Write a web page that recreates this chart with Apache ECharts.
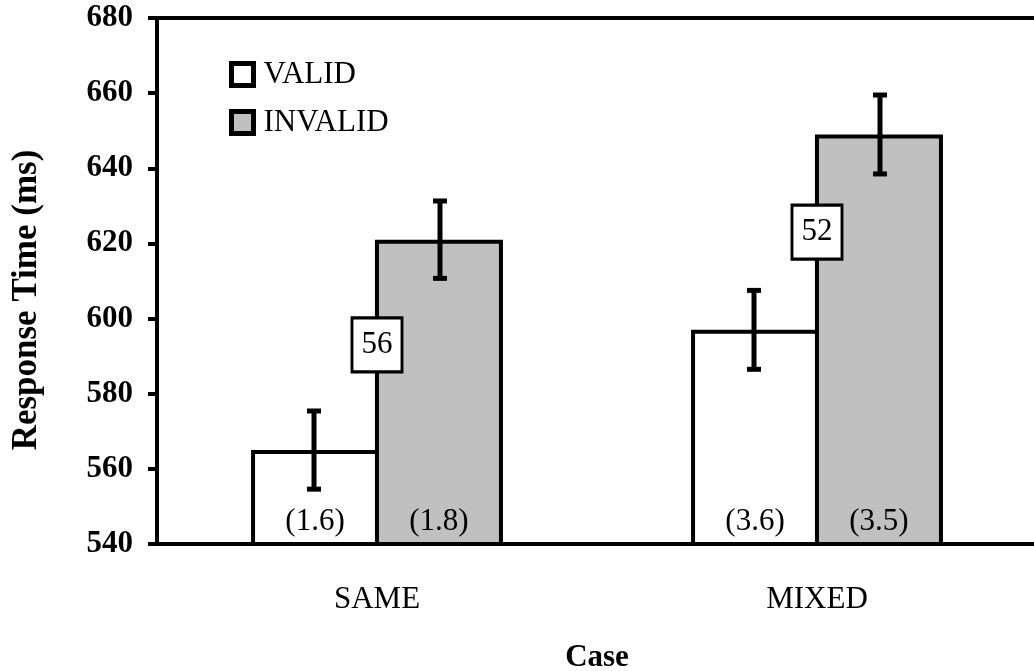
<!DOCTYPE html>
<html>
<head>
<meta charset="utf-8">
<script src="https://cdn.jsdelivr.net/npm/echarts@6/dist/echarts.min.js"></script>
<style>
  html, body { margin: 0; padding: 0; background: #fff; }
  #chart { width: 1034px; height: 671px; }
</style>
</head>
<body>
<div id="chart"></div>
<script>
// 数据
const categories = ['SAME', 'MIXED'];
const validRT = [565, 597];
const invalidRT = [621, 649];
const validErr = [10.4, 10.5];
const invalidErr = [10.3, 10.5];
const validSE = ['(1.6)', '(3.6)'];
const invalidSE = ['(1.8)', '(3.5)'];
const diffs = [56, 52];
const yTicks = { min: 540, max: 680, step: 20 };

const FONT = 'Liberation Serif';
const BAR_W = 128;

// 误差线
function errorSeries(values, errs, side) {
    return {
        type: 'custom',
        z: 5,
        data: values.map((v, i) => [i, v, errs[i]]),
        renderItem: function (params, api) {
            const x = api.value(0);
            const v = api.value(1);
            const e = api.value(2);
            const top = api.coord([x, v + e]);
            const bot = api.coord([x, v - e]);
            const cx = top[0] + side * (BAR_W - 2) / 2;
            const cap = 7;
            const st = { stroke: '#000', lineWidth: 5 };
            return {
                type: 'group',
                children: [
                    { type: 'line', shape: { x1: cx, y1: top[1], x2: cx, y2: bot[1] }, style: st },
                    { type: 'line', shape: { x1: cx - cap, y1: top[1], x2: cx + cap, y2: top[1] }, style: st },
                    { type: 'line', shape: { x1: cx - cap, y1: bot[1], x2: cx + cap, y2: bot[1] }, style: st }
                ]
            };
        }
    };
}

const barLabel = function (labels) {
    return {
        show: true,
        position: 'insideBottom',
        distance: 9,
        formatter: p => labels[p.dataIndex],
        fontFamily: FONT,
        fontSize: 31,
        color: '#000'
    };
};

const option = {
    animation: false,
    grid: {
        left: 157,
        top: 18,
        width: 880,
        height: 526,
        outerBoundsMode: 'none',
        containLabel: false,
        show: true,
        borderColor: '#000',
        borderWidth: 4
    },
    legend: {
        orient: 'vertical',
        left: 224,
        top: 54,
        itemWidth: 22,
        itemHeight: 22,
        itemGap: 17,
        icon: 'rect',
        data: ['VALID', 'INVALID'],
        itemStyle: { borderColor: '#000', borderWidth: 5 },
        textStyle: { fontFamily: FONT, fontSize: 31, color: '#000', padding: [0, 0, 0, 5] }
    },
    xAxis: {
        type: 'category',
        data: categories,
        name: 'Case',
        nameLocation: 'middle',
        nameGap: 98,
        nameTextStyle: { fontFamily: FONT, fontSize: 31, fontWeight: 'bold', color: '#000' },
        axisLine: { lineStyle: { color: '#000', width: 4 } },
        axisTick: { show: false },
        axisLabel: { margin: 40, fontFamily: FONT, fontSize: 31, color: '#000' }
    },
    yAxis: {
        type: 'value',
        min: yTicks.min,
        max: yTicks.max,
        interval: yTicks.step,
        name: 'Response Time (ms)',
        nameLocation: 'middle',
        nameGap: 113,
        nameRotate: 90,
        nameTextStyle: {
            fontFamily: FONT, fontSize: 35, fontWeight: 'bold', color: '#000',
            padding: [0, 38, 0, 0]
        },
        axisLine: { show: true, lineStyle: { color: '#000', width: 4 } },
        axisTick: { show: true, length: 9, lineStyle: { color: '#000', width: 4 } },
        splitLine: { show: false },
        axisLabel: { margin: 24, fontFamily: FONT, fontSize: 31, fontWeight: 'bold', color: '#000' }
    },
    series: [
        {
            name: 'VALID',
            type: 'bar',
            data: validRT,
            barWidth: BAR_W,
            barGap: '-3.2%',
            itemStyle: { color: '#ffffff', borderColor: '#000', borderWidth: 4 },
            label: barLabel(validSE)
        },
        {
            name: 'INVALID',
            type: 'bar',
            data: invalidRT,
            barWidth: BAR_W,
            barGap: '-3.2%',
            itemStyle: { color: '#c0c0c0', borderColor: '#000', borderWidth: 4 },
            label: barLabel(invalidSE)
        },
        errorSeries(validRT, validErr, -1),
        errorSeries(invalidRT, invalidErr, 1),
        {
            type: 'scatter',
            z: 6,
            symbol: 'rect',
            symbolSize: [50, 54],
            data: diffs.map((d, i) => [i, (validRT[i] + invalidRT[i]) / 2]),
            itemStyle: { color: '#fff', borderColor: '#000', borderWidth: 3, opacity: 1 },
            label: {
                show: true,
                position: 'inside',
                formatter: p => String(diffs[p.dataIndex]),
                fontFamily: FONT,
                fontSize: 31,
                color: '#000'
            }
        }
    ]
};

const chart = echarts.init(document.getElementById('chart'));
chart.setOption(option);
</script>
</body>
</html>
